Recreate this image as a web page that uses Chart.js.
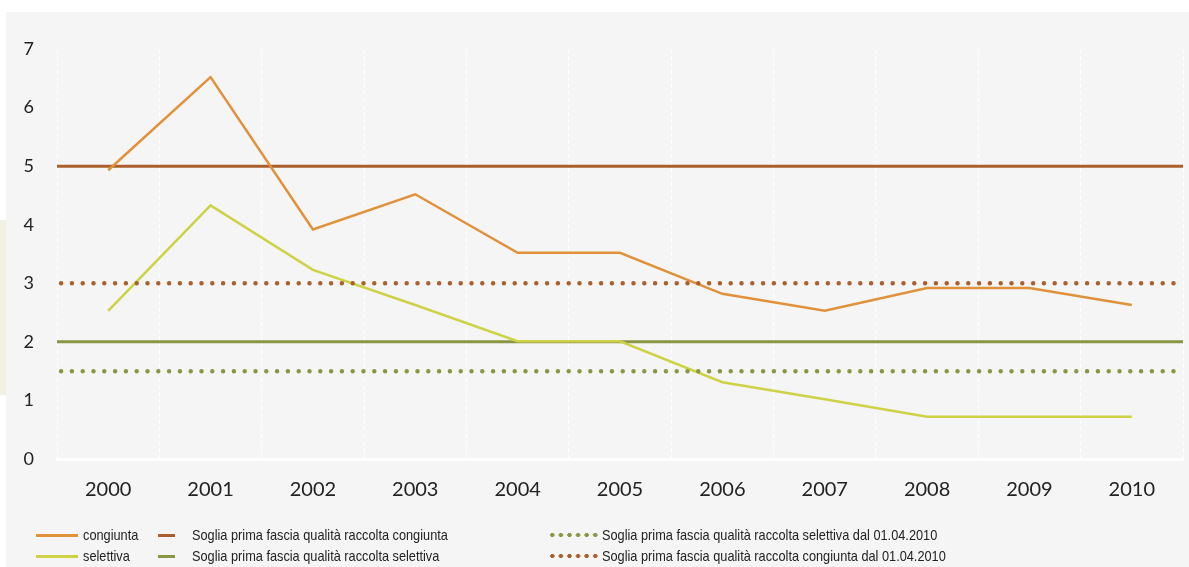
<!DOCTYPE html>
<html>
<head>
<meta charset="utf-8">
<script src="https://cdn.jsdelivr.net/npm/chart.js@4/dist/chart.umd.min.js"></script>
<style>
  body { margin: 0; background: #fff; width: 1189px; height: 567px; overflow: hidden; position: relative; }
  #panel { position: absolute; left: 6px; top: 12px; width: 1183px; height: 555px; background: #f5f5f5; }
  #beige { position: absolute; left: 0; top: 220px; width: 6px; height: 175px; background: #f1f0e1; }
  #wrap { position: absolute; left: 6px; top: 12px; width: 1183px; height: 555px; }
  .leg { position: absolute; font-family: "Liberation Sans", sans-serif; font-size: 15px; color: #222; white-space: nowrap;
         line-height: 18px; transform: scaleX(0.85); transform-origin: 0 50%; }
  .sw { position: absolute; height: 3px; }
  .dots { position: absolute; height: 6px; }
</style>
</head>
<body>
<div id="panel"></div>
<div id="beige"></div>
<div id="wrap"><canvas id="cChart"></canvas></div>
<div id="legend"></div>
<script>
const years = ['2000', '2001', '2002', '2003', '2004', '2005', '2006', '2007', '2008', '2009', '2010'];
const congiunta = [4.93, 6.52, 3.92, 4.52, 3.52, 3.52, 2.82, 2.53, 2.92, 2.92, 2.63];
const selettiva = [2.53, 4.33, 3.23, 2.63, 2.01, 2.01, 1.31, 1.02, 0.72, 0.72, 0.72];
const sogliaCongiunta = 5;
const sogliaSelettiva = 2;
const sogliaSelettiva2010 = 1.5;
const sogliaCongiunta2010 = 3;
const yTicks = [0, 1, 2, 3, 4, 5, 6, 7];

const cOrange = 'rgb(224, 145, 60)', cYellow = 'rgb(205, 210, 70)';
const cBrown = 'rgb(170, 95, 45)', cOlive = 'rgb(138, 150, 68)';

// threshold lines run across the whole plot, on a hidden linear axis
const span = v => [{x: -0.5, y: v}, {x: years.length - 0.5, y: v}];

const data = {
  labels: years,
  datasets: [
    { label: 'congiunta', data: congiunta, borderColor: cOrange, borderWidth: 2.5, pointRadius: 0, tension: 0, order: 2 },
    { label: 'selettiva', data: selettiva, borderColor: cYellow, borderWidth: 2.5, pointRadius: 0, tension: 0, order: 2 },
    { label: 'Soglia prima fascia qualità raccolta congiunta', data: span(sogliaCongiunta), xAxisID: 'xl',
      borderColor: cBrown, borderWidth: 3, pointRadius: 0, order: 3 },
    { label: 'Soglia prima fascia qualità raccolta selettiva', data: span(sogliaSelettiva), xAxisID: 'xl',
      borderColor: cOlive, borderWidth: 3, pointRadius: 0, order: 3 },
    { label: 'Soglia prima fascia qualità raccolta selettiva dal 01.04.2010', data: span(sogliaSelettiva2010), xAxisID: 'xl',
      borderColor: cOlive, borderWidth: 4.5, borderDash: [0, 10.8], borderDashOffset: 6.7, borderCapStyle: 'round',
      pointRadius: 0, order: 1 },
    { label: 'Soglia prima fascia qualità raccolta congiunta dal 01.04.2010', data: span(sogliaCongiunta2010), xAxisID: 'xl',
      borderColor: cBrown, borderWidth: 4.5, borderDash: [0, 10.8], borderDashOffset: 6.7, borderCapStyle: 'round',
      pointRadius: 0, order: 1 }
  ]
};

const config = {
  type: 'line',
  data: data,
  options: {
    responsive: true,
    maintainAspectRatio: false,
    animation: false,
    layout: { padding: { left: 0, top: 37, right: 6, bottom: 58 } },
    plugins: { legend: { display: false }, tooltip: { enabled: false } },
    scales: {
      x: {
        type: 'category',
        offset: true,
        grid: { display: true, offset: true, color: '#ffffff', lineWidth: 1, drawTicks: false },
        border: { display: true, color: '#ffffff', width: 3, dash: [4, 3] },
        ticks: { color: '#222', padding: 19, font: { family: 'Lato', size: 20 } },
        afterFit: s => { s.height = 50; }
      },
      xl: { type: 'linear', display: false, min: -0.5, max: years.length - 0.5 },
      y: {
        min: 0, max: 7,
        afterBuildTicks: s => { s.ticks = yTicks.map(v => ({ value: v })); },
        grid: { display: false, drawTicks: false },
        border: { display: false },
        ticks: { color: '#222', padding: 23, font: { family: 'Lato', size: 18 } },
        afterFit: s => { s.width = 51; }
      }
    }
  }
};

const cChart = new Chart(document.getElementById('cChart'), config);

// legend laid out in three columns, two rows, like the original
const legendSpots = [
  { ds: 0, x: 36, y: 526, w: 42, text: 83 },
  { ds: 1, x: 36, y: 547, w: 42, text: 83 },
  { ds: 2, x: 158, y: 526, w: 17, text: 192 },
  { ds: 3, x: 158, y: 547, w: 17, text: 192 },
  { ds: 4, x: 548, y: 526, w: 50, text: 602 },
  { ds: 5, x: 548, y: 547, w: 50, text: 602 }
];
const legend = document.getElementById('legend');
legendSpots.forEach(p => {
  const ds = data.datasets[p.ds];
  const sw = document.createElement('div');
  if (ds.borderDash) {
    sw.className = 'dots';
    sw.style.left = p.x + 'px';
    sw.style.top = (p.y + 6) + 'px';
    sw.style.width = p.w + 'px';
    sw.style.background = 'radial-gradient(circle, ' + ds.borderColor + ' 1.9px, transparent 2.4px) 0 0 / 8.6px 6px repeat-x';
  } else {
    sw.className = 'sw';
    sw.style.left = p.x + 'px';
    sw.style.top = (p.y + 8) + 'px';
    sw.style.width = p.w + 'px';
    sw.style.background = ds.borderColor;
  }
  legend.appendChild(sw);
  const t = document.createElement('div');
  t.className = 'leg';
  t.style.left = p.text + 'px';
  t.style.top = p.y + 'px';
  t.textContent = ds.label;
  legend.appendChild(t);
});
</script>
</body>
</html>
